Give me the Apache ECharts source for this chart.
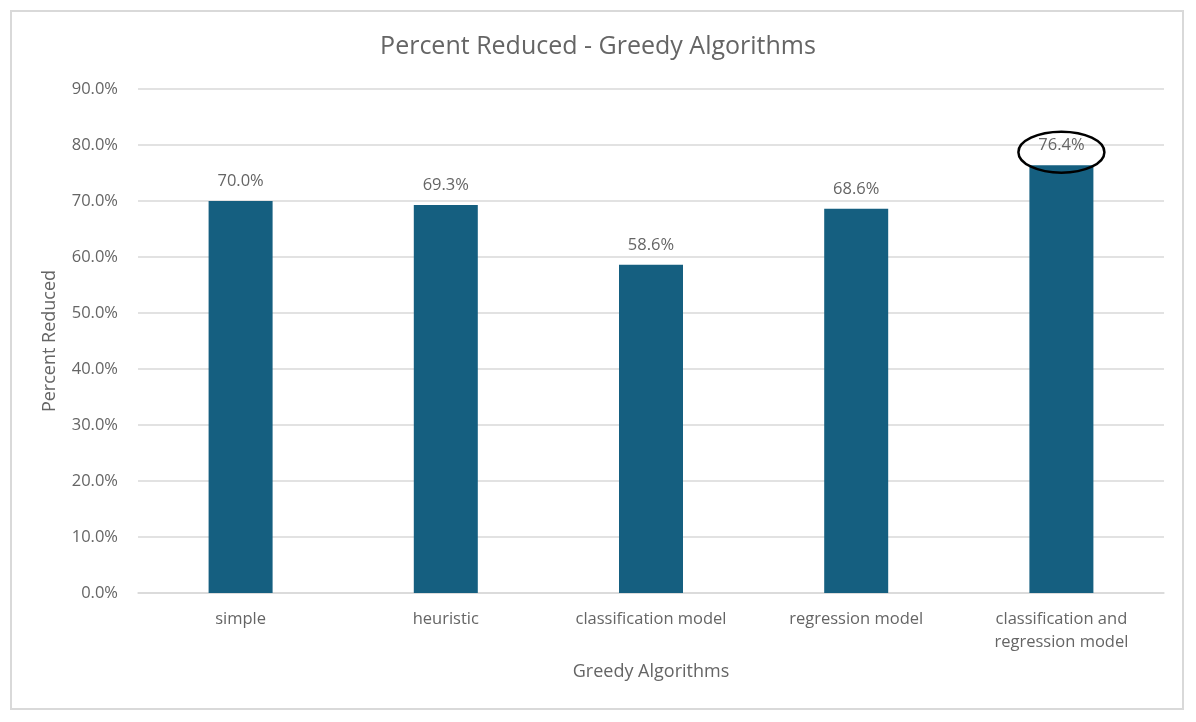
<!DOCTYPE html>
<html>
<head>
    <meta charset="UTF-8">
    <title>Percent Reduced - Greedy Algorithms</title>
    <script src="https://cdn.jsdelivr.net/npm/echarts@6/dist/echarts.min.js"></script>
    <style>
        html, body { margin: 0; padding: 0; background: #fff; }
        #frame { position: absolute; left: 10px; top: 10px; width: 1174px; height: 700px;
                 border: 2px solid #d9d9d9; box-sizing: border-box; }
        #chartBox { width: 1196px; height: 722px; }
    </style>
</head>
<body>
    <div id="frame"></div>
    <div id="chartBox"></div>

    <script>
        // data
        var categories = ['simple', 'heuristic', 'classification model', 'regression model',
            'classification and\nregression model'];
        var percentReduced = [70.0, 69.3, 58.6, 68.6, 76.4];
        var highlightIndex = 4;

        var textColor = '#656565';
        var fontName = 'Open Sans';

        var myChart = echarts.init(document.getElementById('chartBox'));

        var option = {
            backgroundColor: 'transparent',
            title: {
                text: 'Percent Reduced - Greedy Algorithms',
                left: 'center',
                top: 29,
                textStyle: { color: textColor, fontSize: 25, fontWeight: 'normal', fontFamily: fontName }
            },
            grid: { left: 138, right: 32, top: 89, bottom: 129 },
            xAxis: {
                type: 'category',
                data: categories,
                name: 'Greedy Algorithms',
                nameLocation: 'middle',
                nameGap: 70,
                nameTextStyle: { color: textColor, fontSize: 18, fontFamily: fontName },
                axisLine: { lineStyle: { color: '#d9d9d9', width: 1.5 } },
                axisTick: { show: false },
                axisLabel: { color: textColor, fontSize: 16.5, fontFamily: fontName, margin: 15, interval: 0, lineHeight: 23 }
            },
            yAxis: {
                type: 'value',
                min: 0,
                max: 90,
                interval: 10,
                name: 'Percent Reduced',
                nameLocation: 'middle',
                nameGap: 79,
                nameTextStyle: { color: textColor, fontSize: 18, fontFamily: fontName },
                axisLabel: {
                    color: textColor, fontSize: 16.5, fontFamily: fontName, margin: 20,
                    formatter: function (v) { return v.toFixed(1) + '%'; }
                },
                splitLine: { lineStyle: { color: '#d9d9d9', width: 1.5 } }
            },
            series: [{
                type: 'bar',
                data: percentReduced,
                barWidth: 64,
                itemStyle: { color: '#155f80' },
                label: {
                    show: true,
                    position: 'top',
                    distance: 11,
                    color: textColor,
                    fontSize: 16.5,
                    fontFamily: fontName,
                    formatter: function (p) { return p.value.toFixed(1) + '%'; }
                }
            }]
        };

        myChart.setOption(option);

        // ellipse around the highlighted label
        var pt = myChart.convertToPixel({ seriesIndex: 0 }, [highlightIndex, percentReduced[highlightIndex]]);
        myChart.setOption({
            graphic: [{
                type: 'ellipse',
                shape: { cx: pt[0], cy: pt[1] - 13, rx: 43, ry: 20.5 },
                style: { fill: 'none', stroke: '#000', lineWidth: 2.5 },
                z: 100
            }]
        });
    </script>
</body>
</html>
